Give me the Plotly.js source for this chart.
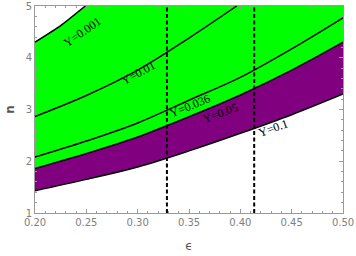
<!DOCTYPE html>
<html>
<head>
<meta charset="utf-8">
<script src="https://cdn.plot.ly/plotly-3.0.1.min.js"></script>
<style>html,body{margin:0;padding:0;background:#fff}#chart{width:356px;height:256px}</style>
</head>
<body>
<div id="chart"></div>
<script>
// ---- data ----
var epsGrid = [0.20, 0.25, 0.30, 0.35, 0.40, 0.45, 0.50];
var epsY001 = [0.20, 0.225, 0.249];
var nY001   = [4.30, 4.62, 5.00];
var epsY01  = [0.20, 0.25, 0.30, 0.35, 0.3965];
var nY01    = [2.865, 3.27, 3.76, 4.38, 5.00];
var nY036   = [2.08, 2.39, 2.74, 3.18, 3.62, 4.17, 4.77];
var nY05    = [1.86, 2.15, 2.47, 2.86, 3.28, 3.76, 4.30];
var nY1     = [1.43, 1.65, 1.89, 2.20, 2.54, 2.90, 3.30];
var nTop    = 5;
var epsMarks = [0.3285, 0.4135];
var curveLabels = ["Y=0.001", "Y=0.01", "Y=0.036", "Y=0.05", "Y=0.1"];
var labelEps = [0.246, 0.3005, 0.3505, 0.3803, 0.4321];
var labelN   = [4.50, 3.71, 3.06, 2.94, 2.64];
var labelAngle = [-35, -29, -22, -20, -20];
var xTicks = [0.20, 0.25, 0.30, 0.35, 0.40, 0.45, 0.50];
var xTickText = ["0.20", "0.25", "0.30", "0.35", "0.40", "0.45", "0.50"];
var yTicks = [1, 2, 3, 4, 5];

var green = '#00ff00', purple = '#800080';
var blk = {color: '#000', width: 1.5, shape: 'spline', smoothing: 1};
var traces = [];
// white region above the Y=0.001 curve (top-left corner)
traces.push({x: [epsY001[0], epsY001[epsY001.length - 1]], y: [nTop, nTop], mode: 'lines',
             line: {color: 'rgba(0,0,0,0)', width: 0}, hoverinfo: 'skip'});
traces.push({x: epsY001, y: nY001, mode: 'lines', fill: 'tonexty', fillcolor: '#ffffff',
             line: {color: '#000', width: 1.5, shape: 'spline', smoothing: 0.5}});
// purple below Y=0.05
traces.push({x: epsGrid, y: nY05, mode: 'lines', fill: 'tozeroy', fillcolor: purple, line: blk});
// white below Y=0.1
traces.push({x: epsGrid, y: nY1, mode: 'lines', fill: 'tozeroy', fillcolor: '#ffffff', line: blk});
// remaining black curves
traces.push({x: epsGrid, y: nY036, mode: 'lines', line: blk});
traces.push({x: epsY01, y: nY01, mode: 'lines', line: blk});

var shapes = epsMarks.map(function (e) {
  return {type: 'line', xref: 'x', yref: 'paper', x0: e, x1: e, y0: 0, y1: 1,
          line: {color: '#000', width: 2, dash: '4px,2.5px'}};
});
var annotations = curveLabels.map(function (t, i) {
  return {x: labelEps[i], y: labelN[i], text: t, showarrow: false, textangle: labelAngle[i],
          xanchor: 'center', yanchor: 'middle',
          font: {family: 'Liberation Serif', size: 12, color: '#000'}};
});

var axisCommon = {
  showgrid: false, zeroline: false, showline: true, linecolor: '#9a9a9a', linewidth: 1,
  mirror: 'allticks', ticks: 'inside', ticklen: 4, tickcolor: '#9a9a9a', tickwidth: 1,
  tickfont: {family: 'DejaVu Sans, sans-serif', size: 10, color: '#808080'}
};
var layout = {
  width: 356, height: 256,
  margin: {l: 35, r: 13, t: 6, b: 43},
  paper_bgcolor: '#fff', plot_bgcolor: green,
  showlegend: false,
  xaxis: Object.assign({}, axisCommon, {
    range: [0.2, 0.5], tickvals: xTicks, ticktext: xTickText,
    minor: {ticks: 'inside', dtick: 0.01, tick0: 0.2, ticklen: 2, tickcolor: '#9a9a9a'},
    title: {text: 'ϵ', standoff: 14, font: {family: 'DejaVu Sans, sans-serif', size: 12, color: '#555'}}
  }),
  yaxis: Object.assign({}, axisCommon, {
    range: [1, 5], tickvals: yTicks,
    minor: {ticks: 'inside', dtick: 0.2, tick0: 1, ticklen: 2, tickcolor: '#9a9a9a'},
    title: {text: '<b>n</b>', standoff: 8, font: {family: 'DejaVu Sans, sans-serif', size: 12, color: '#555'}}
  }),
  shapes: shapes,
  annotations: annotations
};
Plotly.newPlot('chart', traces, layout, {staticPlot: true, displayModeBar: false});
</script>
</body>
</html>
